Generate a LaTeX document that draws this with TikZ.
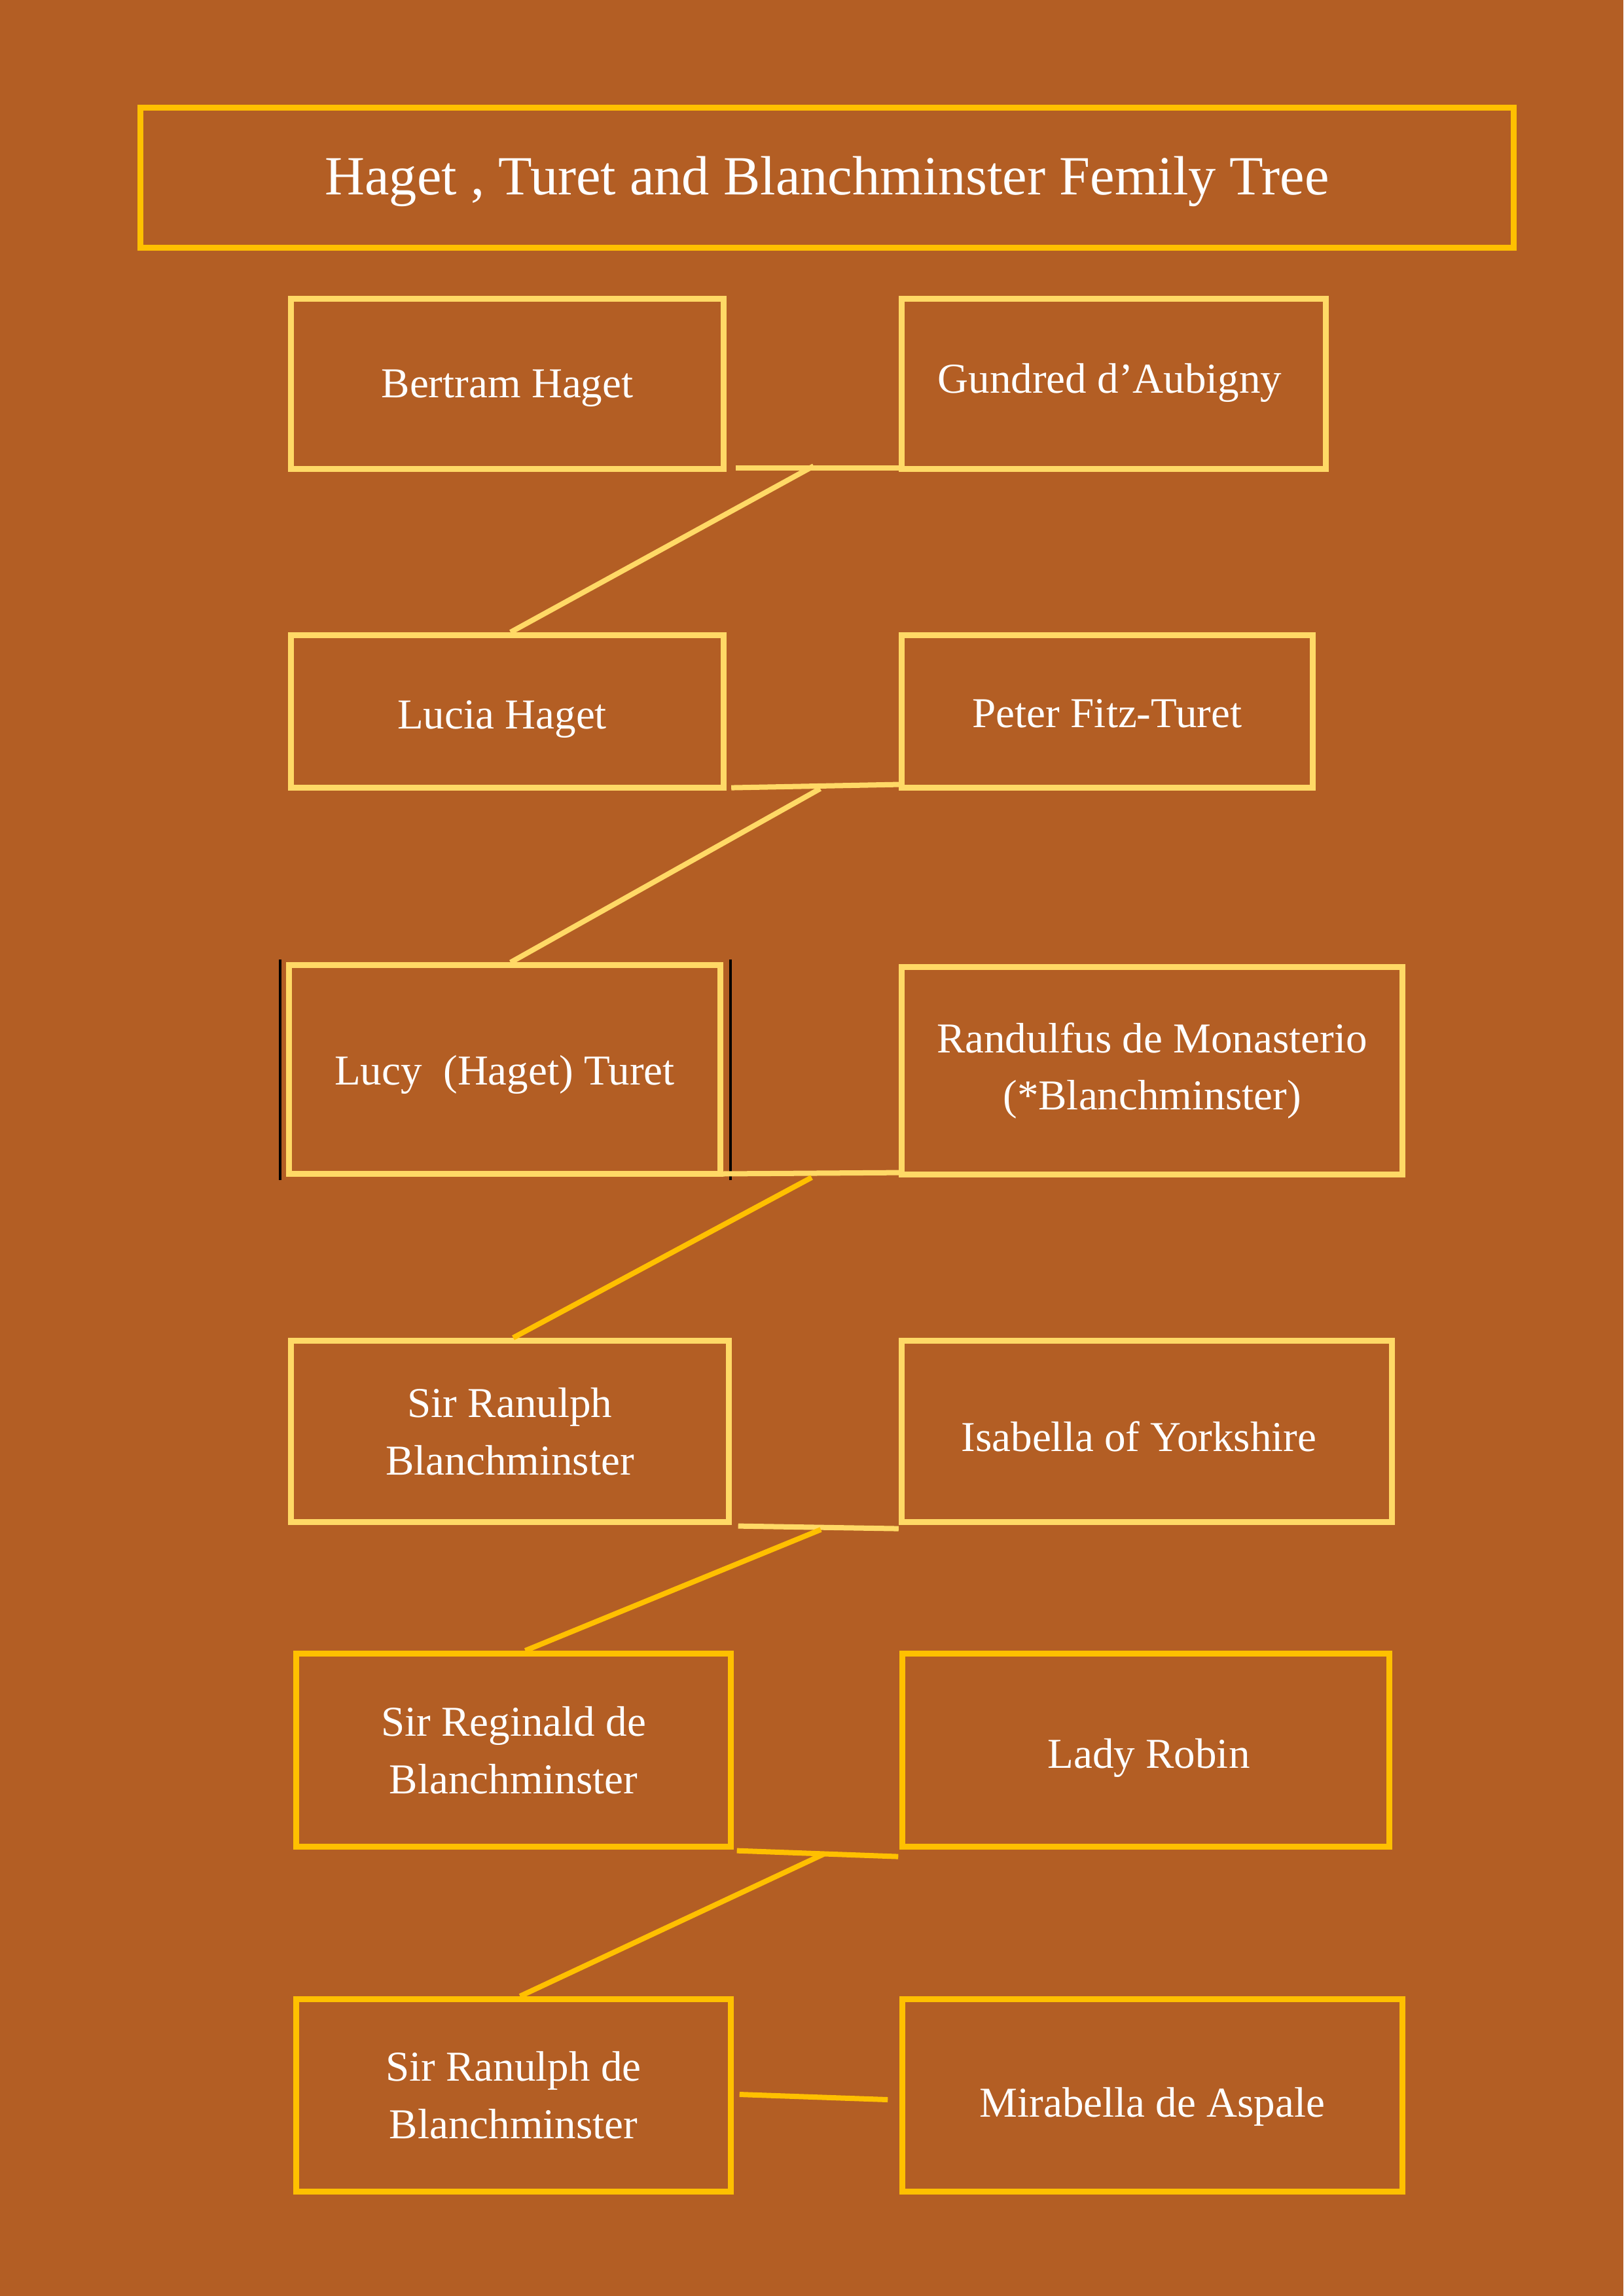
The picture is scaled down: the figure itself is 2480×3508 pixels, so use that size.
\documentclass[tikz,border=0pt]{standalone}
\usepackage{fontspec}
\setmainfont{Liberation Serif}
\definecolor{bg}{HTML}{B35E24}
\definecolor{ly}{HTML}{FFD966}
\definecolor{gd}{HTML}{FFC000}
\begin{document}
\begin{tikzpicture}[x=0.01cm,y=-0.01cm,
  pbox/.style={draw=ly, line width=0.09cm, rectangle, inner sep=0pt, text=white, align=center,
    font=\fontsize{18.5pt}{25pt}\selectfont},
  gbox/.style={pbox, draw=gd},
  base/.style={text depth=0pt, text height=#1},
  lyline/.style={draw=ly, line width=0.08cm},
  gline/.style={draw=gd, line width=0.08cm}]
\fill[bg] (0,0) rectangle (2480,3508);
\useasboundingbox (0,0) rectangle (2480,3508);

\node[gbox, base=15pt, minimum width=20.96cm, minimum height=2.14cm, font=\fontsize{24pt}{28pt}\selectfont]
  (title) at (1263.5,271.5) {Haget , Turet and Blanchminster Femily Tree};

\node[pbox, base=11.7pt, minimum width=6.61cm, minimum height=2.60cm] (bertram) at (775,586.5) {Bertram Haget};
\node[pbox, base=8.2pt, minimum width=6.48cm, minimum height=2.60cm] (gundred) at (1701.5,586.5) {Gundred d’Aubigny\hspace*{3.4pt}};
\node[pbox, base=14.8pt, minimum width=6.61cm, minimum height=2.33cm] (lucia) at (775,1087) {Lucia Haget\hspace*{4.5pt}};
\node[pbox, base=13.7pt, minimum width=6.28cm, minimum height=2.33cm] (peter) at (1691.5,1087) {Peter Fitz-Turet};
\node[pbox, base=13.1pt, minimum width=6.59cm, minimum height=3.18cm] (lucy) at (771,1634) {Lucy\ \ (Haget) Turet};
\node[pbox, minimum width=7.65cm, minimum height=3.17cm] (randulfus) at (1760,1636) {Randulfus de Monasterio\\(*Blanchminster)};
\node[pbox, minimum width=6.69cm, minimum height=2.77cm] (ranulph) at (779,2187) {Sir Ranulph\\Blanchminster};
\node[pbox, base=17.6pt, minimum width=7.49cm, minimum height=2.77cm] (isabella) at (1752,2187) {Isabella of Yorkshire\hspace*{6.8pt}};
\node[gbox, minimum width=6.64cm, minimum height=2.95cm] (reginald) at (784.5,2674) {Sir Reginald de\\Blanchminster};
\node[gbox, base=15.4pt, minimum width=7.44cm, minimum height=2.95cm] (robin) at (1750.5,2674) {\hspace*{2.6pt}Lady Robin};
\node[gbox, minimum width=6.64cm, minimum height=2.94cm] (ranulphde) at (784.5,3201.5) {Sir Ranulph de\\Blanchminster};
\node[gbox, base=18.5pt, minimum width=7.64cm, minimum height=2.94cm] (mirabella) at (1760.5,3201.5) {Mirabella de Aspale};

% dark edges beside Lucy's box
\draw[black, line width=0.04cm] ([shift={(-0.085cm,0.045cm)}]lucy.north west) -- ([shift={(-0.085cm,-0.05cm)}]lucy.south west);
\draw[black, line width=0.04cm] ([shift={(0.105cm,0.045cm)}]lucy.north east) -- ([shift={(0.105cm,-0.05cm)}]lucy.south east);

% junction points
\coordinate (j1) at (1243,712);
\coordinate (j2) at (1253,1205);
\coordinate (j3) at (1240,1799);
\coordinate (j4) at (1254,2337);
\coordinate (j5) at (1258,2833);

% generation 1
\draw[lyline] ([shift={(0.14cm,0.065cm)}]bertram.south east) -- ([yshift=0.065cm]gundred.south west);
\draw[lyline] (j1) -- ([xshift=0.05cm]lucia.north);
% generation 2
\draw[lyline] ([shift={(0.07cm,0.045cm)}]lucia.south east) -- ([yshift=0.095cm]peter.south west);
\draw[lyline] (j2) -- ([xshift=0.09cm]lucy.north);
% generation 3
\draw[lyline] ([shift={(-0.155cm,0.04cm)}]lucy.south east) -- ([yshift=0.075cm]randulfus.south west);
\draw[gline] (j3) -- ([xshift=0.05cm]ranulph.north);
% generation 4
\draw[lyline] ([shift={(0.095cm,-0.015cm)}]ranulph.south east) -- ([yshift=-0.055cm]isabella.south west);
\draw[gline] (j4) -- ([xshift=0.18cm]reginald.north);
% generation 5
\draw[gline] ([shift={(0.045cm,-0.015cm)}]reginald.south east) -- ([shift={(-0.015cm,-0.105cm)}]robin.south west);
\draw[gline] (j5) -- ([xshift=0.1cm]ranulphde.north);
% generation 6
\draw[gline] ([shift={(0.085cm,0.015cm)}]ranulphde.east) -- ([shift={(-0.175cm,-0.065cm)}]mirabella.west);
\end{tikzpicture}
\end{document}
